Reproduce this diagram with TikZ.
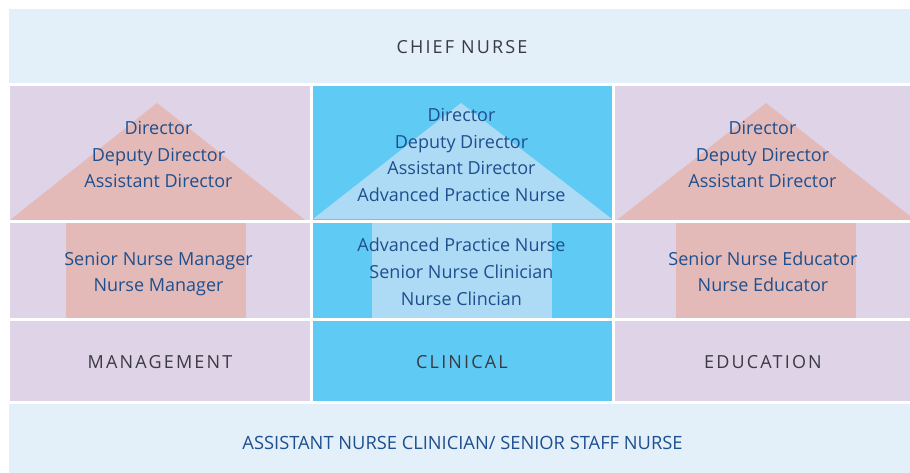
\documentclass[tikz,border=0pt]{standalone}
\usepackage{fontspec}
\setmainfont{Open Sans}
\newfontfamily\capsfont{Open Sans}[LetterSpace=12]
\definecolor{paleblue}{HTML}{E3F0FA}
\definecolor{lilac}{HTML}{DFD3E7}
\definecolor{cyanbox}{HTML}{5FCBF4}
\definecolor{salmon}{HTML}{E4BAB9}
\definecolor{lightcyan}{HTML}{ADDBF5}
\definecolor{txtblue}{HTML}{1E4F8E}
\definecolor{txtgray}{HTML}{3A3A42}
\tikzset{
  txt/.style={anchor=base, inner sep=0pt, text=txtblue, font=\fontsize{18}{22}\selectfont},
  headtxt/.style={anchor=base, inner sep=0pt, text=txtgray, font=\fontsize{18}{22}\selectfont\capsfont},
  headblue/.style={anchor=base, inner sep=0pt, text=txtblue, font=\fontsize{18.3}{22}\selectfont},
}
\begin{document}
\begin{tikzpicture}[x=1pt,y=-1pt]
\useasboundingbox (0,0) rectangle (910,473);
% bands
\fill[paleblue] (9,9) rectangle (910,83);
\fill[paleblue] (9,404) rectangle (910,473);
% columns
\foreach \ya/\yb in {86/220, 223/318, 321/401}{
  \fill[lilac] (10,\ya) rectangle (310,\yb);
  \fill[cyanbox] (313,\ya) rectangle (612,\yb);
  \fill[lilac] (615,\ya) rectangle (910,\yb);
}
% roofs
\fill[salmon] (10,220) -- (157,103) -- (305,220) -- cycle;
\fill[lightcyan] (313,219) -- (461,103) -- (612,219) -- cycle;
\begin{scope}
  \clip (615,86) rectangle (910,220);
  \fill[salmon] (617,220) -- (766,103) -- (915,220) -- cycle;
\end{scope}
% walls
\fill[salmon] (66,223) rectangle (246,318);
\fill[lightcyan] (372,223) rectangle (552,318);
\fill[salmon] (676,223) rectangle (856,318);
% headings
\node[headtxt] (chief) at (462,54) {CHIEF NURSE};
\node[headtxt] (mgmt) at (160,368.5) {MANAGEMENT};
\node[headtxt] (clin) at (462,368.5) {CLINICAL};
\node[headtxt] (edu) at (763,368.5) {EDUCATION};
\node[headblue] (ancs) at (462.5,449) {ASSISTANT NURSE CLINICIAN/ SENIOR STAFF NURSE};
% management
\node[txt] (m1) at (158.5,134.5) {Director};
\node[txt] (m2) at (158.5,161.5) {Deputy Director};
\node[txt] (m3) at (158.5,188) {Assistant Director};
\node[txt] (m4) at (158.5,265) {Senior Nurse Manager};
\node[txt] (m5) at (158.5,291.5) {Nurse Manager};
% clinical
\node[txt] (c1) at (461.5,121.5) {Director};
\node[txt] (c2) at (461.5,148.5) {Deputy Director};
\node[txt] (c3) at (461.5,175) {Assistant Director};
\node[txt] (c4) at (461.5,201.5) {Advanced Practice Nurse};
\node[txt] (c5) at (461.5,251.5) {Advanced Practice Nurse};
\node[txt] (c6) at (461.5,278.5) {Senior Nurse Clinician};
\node[txt] (c7) at (461.5,305) {Nurse Clincian};
% education
\node[txt] (e1) at (762.5,134.5) {Director};
\node[txt] (e2) at (762.5,161.5) {Deputy Director};
\node[txt] (e3) at (762.5,188) {Assistant Director};
\node[txt] (e4) at (763,265) {Senior Nurse Educator};
\node[txt] (e5) at (763,291.5) {Nurse Educator};
\end{tikzpicture}
\end{document}
